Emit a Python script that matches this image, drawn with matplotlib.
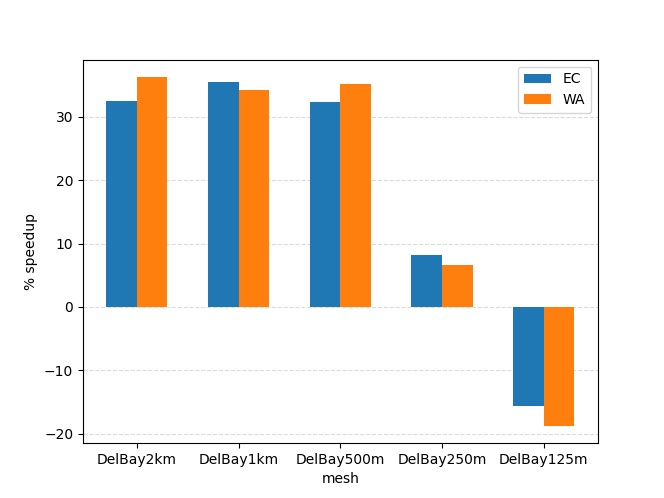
import matplotlib
matplotlib.use("Agg")
import matplotlib.pyplot as plt
import numpy as np

meshes = ["DelBay2km", "DelBay1km", "DelBay500m", "DelBay250m", "DelBay125m"]
ec = [32.5, 35.55, 32.3, 8.15, -15.7]
wa = [36.25, 34.2, 35.1, 6.6, -18.75]

fig, ax = plt.subplots(figsize=(6.64, 4.98), dpi=100)
x = np.arange(len(meshes))
w = 0.3
ax.bar(x - w/2, ec, w, label="EC", zorder=3)
ax.bar(x + w/2, wa, w, label="WA", zorder=3)
ax.set_xticks(x)
ax.set_xticklabels(meshes)
ax.set_xlabel("mesh")
ax.set_ylabel("% speedup")
ax.yaxis.grid(True, linestyle="--", alpha=0.45, zorder=0)
ax.set_axisbelow(True)
ax.legend(loc="upper right")
fig.savefig("out.png")
